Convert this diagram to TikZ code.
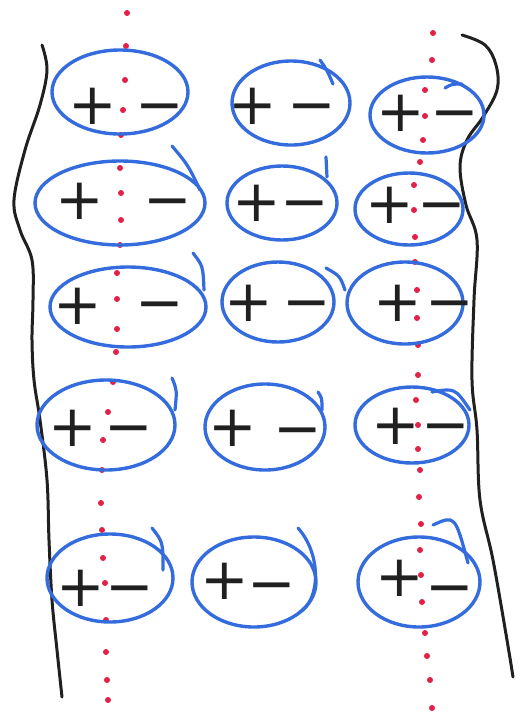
\documentclass[tikz,border=0pt]{standalone}
\usepackage{fontspec}
\newfontfamily\signfont{DejaVu Sans}
\usetikzlibrary{shapes.geometric}
\definecolor{pblue}{RGB}{52,108,222}
\definecolor{pred}{RGB}{226,32,72}
\definecolor{ink}{RGB}{32,32,32}
\tikzset{
  ell/.style={ellipse, draw=pblue, line width=3.4pt, inner sep=0pt},
  tail/.style={draw=pblue, line width=3.2pt, line cap=round},
  sign/.style={font=\signfont\fontsize{58}{58}\selectfont, text=ink, inner sep=0pt, anchor=base, yshift=-21pt},
  border/.style={draw=ink, line width=3pt, line cap=round},
  rdot/.style={fill=pred, draw=none}
}
\begin{document}
\begin{tikzpicture}[x=1pt, y=-1pt]
\useasboundingbox (0,0) rectangle (521,724);
\fill[white] (0,0) rectangle (521,724);

% red dotted lines
\foreach \x/\y in {127/13,126/46,125/80,123/110,121/135,120/168,121/193,121/220,120/245,117/273,117/299,117/329,116/352,113/382,108/412,103/440,102/470,101/503,102/530,103/558,105/583,106/620,106/652,107/680,108/700}
  \fill[rdot] (\x,\y) circle (3pt);
\foreach \x/\y in {433/33,432/60,425/90,425/116,423/140,420/162,414/185,414/210,415/237,415/262,417/290,417/318,418/345,418/375,416/400,418/425,418/449,420/470,419/497,421/524,420/550,421/575,422/602,425/633,427/656,430/680,432/708}
  \fill[rdot] (\x,\y) circle (3pt);

% black boundaries
\draw[border] plot[smooth, tension=0.6] coordinates {(42,45) (47,70) (40,105) (25,150) (14,200) (20,230) (32,260) (33,300) (32,340) (34,380) (40,420) (47,480) (49,540) (52,600) (57,650) (62,697)};
\draw[border] plot[smooth, tension=0.6] coordinates {(462,35) (485,45) (496,65) (497,90) (483,117) (467,140) (460,167) (466,205) (477,240) (474,300) (472,380) (477,430) (480,500) (493,560) (507,640) (513,677)};

% ellipses
\node[ell, minimum width=136pt, minimum height=84pt] (e11) at (120,92) {};
\node[ell, minimum width=118pt, minimum height=84pt] (e12) at (291,103) {};
\node[ell, minimum width=114pt, minimum height=76pt] (e13) at (427,115) {};
\node[ell, minimum width=170pt, minimum height=84pt] (e21) at (120,203) {};
\node[ell, minimum width=110pt, minimum height=74pt] (e22) at (282,203) {};
\node[ell, minimum width=108pt, minimum height=72pt] (e23) at (409,209) {};
\node[ell, minimum width=156pt, minimum height=80pt] (e31) at (128,307) {};
\node[ell, minimum width=112pt, minimum height=80pt] (e32) at (278,302) {};
\node[ell, minimum width=116pt, minimum height=82pt] (e33) at (405,303) {};
\node[ell, minimum width=138pt, minimum height=90pt] (e41) at (106,425) {};
\node[ell, minimum width=120pt, minimum height=86pt] (e42) at (265,427) {};
\node[ell, minimum width=114pt, minimum height=76pt] (e43) at (412,425) {};
\node[ell, minimum width=126pt, minimum height=88pt] (e51) at (110,578) {};
\node[ell, minimum width=124pt, minimum height=90pt] (e52) at (254,582) {};
\node[ell, minimum width=122pt, minimum height=90pt] (e53) at (419,582) {};

% tails (stroke overshoots)
\draw[tail] (320,60) .. controls (327,70) .. (333,84);
\draw[tail] (445,88) .. controls (452,84) .. (462,84);
\draw[tail] (172,146) .. controls (188,165) .. (200,190);
\draw[tail] (326,157) -- (327,177);
\draw[tail] (193,253) .. controls (203,266) .. (204,290);
\draw[tail] (326,268) .. controls (340,276) .. (345,290);
\draw[tail] (172,378) .. controls (177,390) .. (175,410);
\draw[tail] (318,392) .. controls (322,398) .. (322,410);
\draw[tail] (432,392) .. controls (455,388) .. (470,410);
\draw[tail] (152,528) .. controls (163,542) .. (163,570);
\draw[tail] (298,528) .. controls (322,555) and (320,600) .. (300,612);
\draw[tail] (433,525) .. controls (455,515) .. (468,563);

% signs
\node[sign] (p11) at (93,103) {+};   \node[sign] (m11) at (160,103) {−};
\node[sign] (p12) at (253,103) {+};  \node[sign] (m12) at (312,103) {−};
\node[sign] (p13) at (401,110) {+};  \node[sign] (m13) at (455,110) {−};
\node[sign] (p21) at (80,198) {+};   \node[sign] (m21) at (168,198) {−};
\node[sign] (p22) at (257,200) {+};  \node[sign] (m22) at (305,200) {−};
\node[sign] (p23) at (390,202) {+};  \node[sign] (m23) at (442,202) {−};
\node[sign] (p31) at (78,303) {+};   \node[sign] (m31) at (160,301) {−};
\node[sign] (p32) at (249,300) {+};  \node[sign] (m32) at (307,300) {−};
\node[sign] (p33) at (398,300) {+};  \node[sign] (m33) at (450,300) {−};
\node[sign] (p41) at (73,425) {+};   \node[sign] (m41) at (129,425) {−};
\node[sign] (p42) at (233,425) {+};  \node[sign] (m42) at (298,427) {−};
\node[sign] (p43) at (396,423) {+};  \node[sign] (m43) at (446,423) {−};
\node[sign] (p51) at (81,585) {+};   \node[sign] (m51) at (130,585) {−};
\node[sign] (p52) at (225,578) {+};  \node[sign] (m52) at (272,582) {−};
\node[sign] (p53) at (400,575) {+};  \node[sign] (m53) at (450,585) {−};
\end{tikzpicture}
\end{document}
